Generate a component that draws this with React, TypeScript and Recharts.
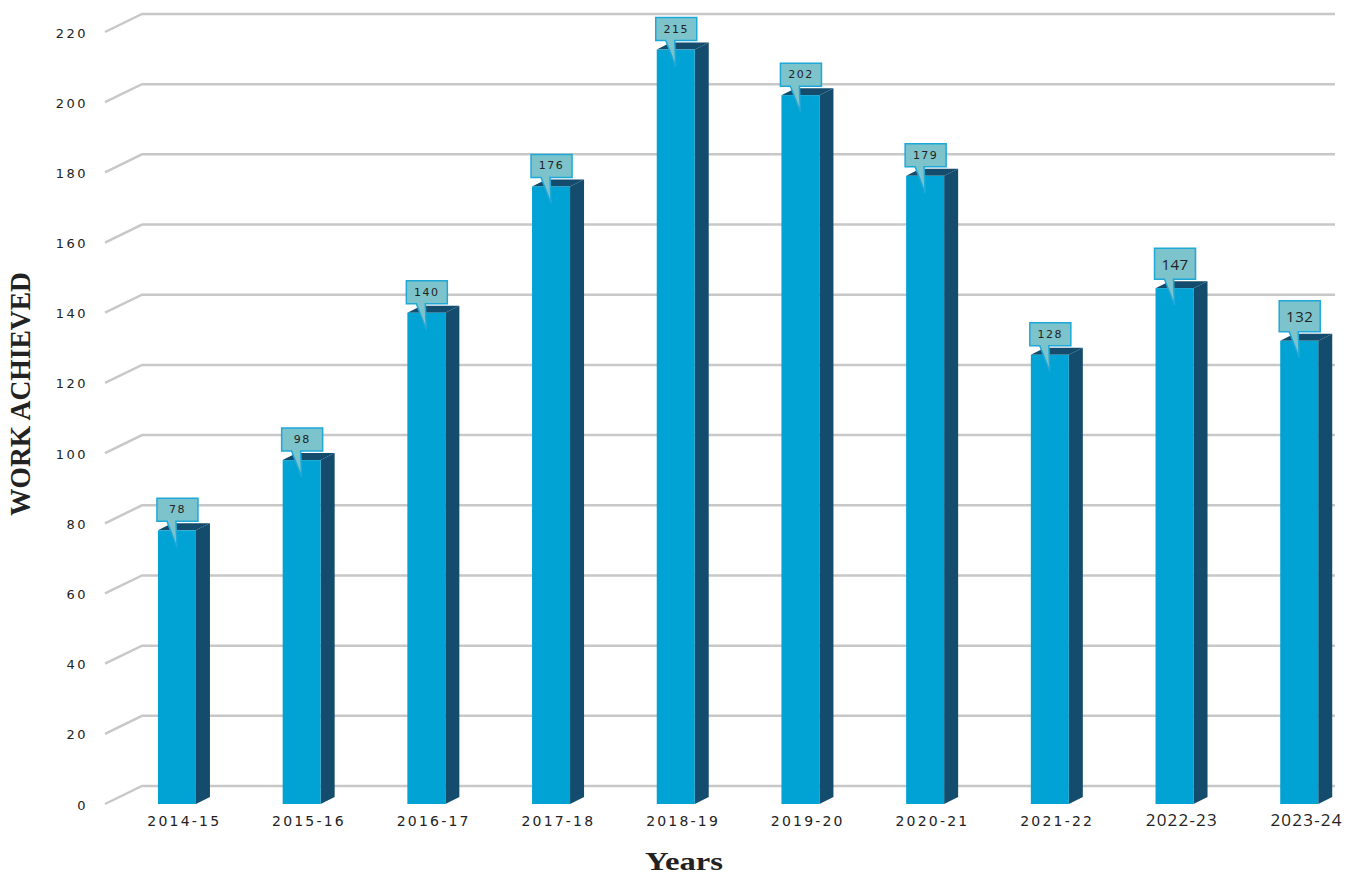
import { BarChart, Bar, XAxis, YAxis, CartesianGrid, LabelList } from "recharts";

const years = [
  "2014-15",
  "2015-16",
  "2016-17",
  "2017-18",
  "2018-19",
  "2019-20",
  "2020-21",
  "2021-22",
  "2022-23",
  "2023-24",
];
const workAchieved = [78, 98, 140, 176, 215, 202, 179, 128, 147, 132];
const yTicks = [0, 20, 40, 60, 80, 100, 120, 140, 160, 180, 200, 220];
// the last two years were typeset in a bigger font
const bigYears = ["2022-23", "2023-24"];

const data = years.map((year, idx) => ({ idx, year, value: workAchieved[idx] }));

const FRONT = "#00A3D4";
const SIDE = "#134C6C";
const GRID = "#C8C8C8";
const BOX_FILL = "#7DC3CB";
const BOX_STROKE = "#1EA8D8";

// bar depth
const DX = 14;
const DY = 7;
// floor / wall depth for the grid
const GX = 37;
const GY = 18;

const Bar3D = (props: any) => {
  const { x, y, width, height } = props;
  const fw = width - DX;
  return (
    <g>
      <polygon
        points={`${x},${y} ${x + DX},${y - DY} ${x + width},${y - DY} ${x + fw},${y}`}
        fill={SIDE}
      />
      <polygon
        points={`${x + fw},${y} ${x + width},${y - DY} ${x + width},${y + height - DY} ${x + fw},${y + height}`}
        fill={SIDE}
      />
      <rect x={x} y={y} width={fw} height={height} fill={FRONT} />
    </g>
  );
};

const Callout = (props: any) => {
  const { x, y, value, index } = props;
  const big = bigYears.includes(years[index]);
  const bw = 41;
  const bh = big ? 31 : 23;
  const bx = x - 1;
  const bb = y - 9;
  const bt = bb - bh;
  const d = `M${bx},${bt} H${bx + bw} V${bb} H${x + 18} L${x + 19},${y + 17} L${x + 9},${bb} H${bx} Z`;
  return (
    <g>
      <path d={d} fill={BOX_FILL} stroke={BOX_STROKE} strokeWidth={1.5} />
      <text
        x={bx + bw / 2}
        y={bt + bh / 2}
        textAnchor="middle"
        dominantBaseline="central"
        fontFamily={big ? "Open Sans" : "DejaVu Sans"}
        fontSize={big ? 15 : 11}
        letterSpacing={big ? 0.5 : 1.5}
        fill="#222"
      >
        {value}
      </text>
    </g>
  );
};

const gridLine = (props: any) => {
  const { x1, x2, y1, key } = props;
  return (
    <polyline
      key={key}
      points={`${x1},${y1} ${x1 + GX},${y1 - GY} ${x2},${y1 - GY}`}
      fill="none"
      stroke={GRID}
      strokeWidth={2.5}
    />
  );
};

const YTick = (props: any) => {
  const { x, y, payload } = props;
  return (
    <text
      x={x}
      y={y + 1}
      textAnchor="end"
      dominantBaseline="central"
      fontFamily="DejaVu Sans"
      fontSize={13}
      letterSpacing={2.5}
      fill="#222"
    >
      {payload.value}
    </text>
  );
};

const XTick = (props: any) => {
  const { x, y, payload } = props;
  const year = years[payload.value];
  const big = bigYears.includes(year);
  return (
    <text
      x={x}
      y={y + 14}
      textAnchor="middle"
      fontFamily={big ? "Open Sans" : "DejaVu Sans"}
      fontSize={big ? 17 : 14}
      letterSpacing={big ? 1.2 : 2.2}
      fill="#222"
    >
      {year}
    </text>
  );
};

const YTitle = () => (
  <text
    x={30}
    y={394}
    transform="rotate(-90 30 394)"
    textAnchor="middle"
    fontFamily="Liberation Serif"
    fontWeight="bold"
    fontSize={29}
    textLength={244}
    lengthAdjust="spacingAndGlyphs"
    fill="#222"
  >
    WORK ACHIEVED
  </text>
);

const XTitle = () => (
  <text
    x={684}
    y={870}
    textAnchor="middle"
    fontFamily="Liberation Serif"
    fontWeight="bold"
    fontSize={26}
    textLength={78}
    lengthAdjust="spacingAndGlyphs"
    fill="#222"
  >
    Years
  </text>
);

export default function App() {
  return (
    <div style={{ position: "absolute", left: 0, top: 0, background: "#fff" }}>
      <BarChart
        width={1349}
        height={876}
        data={data}
        margin={{ top: 32, right: 14, bottom: 0, left: 0 }}
      >
        <CartesianGrid vertical={false} horizontal={gridLine} />
        <XAxis
          type="number"
          dataKey="idx"
          domain={[-0.636, 9.228]}
          allowDataOverflow
          ticks={years.map((_, i) => i)}
          interval={0}
          height={72}
          axisLine={false}
          tickLine={false}
          tick={<XTick />}
          label={{ content: <XTitle /> }}
        />
        <YAxis
          domain={[0, 220]}
          ticks={yTicks}
          interval={0}
          width={105}
          axisLine={false}
          tickLine={false}
          tickSize={6}
          tickMargin={11}
          tick={<YTick />}
          label={{ content: <YTitle /> }}
        />
        <Bar dataKey="value" barSize={52} shape={<Bar3D />} isAnimationActive={false}>
          <LabelList dataKey="value" content={<Callout />} />
        </Bar>
      </BarChart>
    </div>
  );
}
